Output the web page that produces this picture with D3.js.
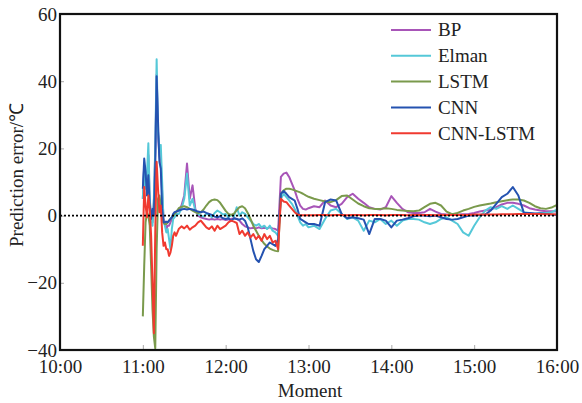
<!DOCTYPE html>
<html><head><meta charset="utf-8">
<script src="https://cdn.jsdelivr.net/npm/d3@7"></script>
<style>
body{margin:0;background:#fff}
svg{display:block}
text{font-family:"Liberation Serif","Times New Roman",serif;fill:#222}
</style>
</head><body>
<svg id="chart" width="582" height="403"></svg>
<script>
// minutes after 10:00
const minutes = [60,61,62,63,64,65,66,67,68,69,70,71,72,73,74,75,76,77,78,79,80,81,82,83,84,
86,88,90,92,94,96,98,100,102,104,106,108,110,112,114,116,118,120,122,124,126,128,130,132,134,136,138,140,142,144,146,148,150,152,154,156,158,160,162,164,166,168,170,172,174,176,178,180,
184,188,192,196,200,204,208,212,216,220,224,228,232,236,240,244,248,252,256,260,264,268,272,276,280,284,288,292,296,300,304,308,312,316,320,324,328,332,336,340,344,348,352,356,360];

const bp = [5,15,9,8,18,4,0,-2,4,19,42,24,18,15,7,-1,-2,-4,-3,-3,-2,-1,0,0.5,1,
1.5,3,6,15.5,5,9,2,0,-0.5,-0.8,-1,-1.2,-1,-1.2,-1,-1.2,-1,-1.3,-1.2,-1,-0.8,-1,-1.5,-2.5,-3.2,-3.5,-3.8,-3.6,-3.8,-3.5,-3.8,-3.6,-3.8,-3.5,-3.8,-4,-4.5,
11.5,12.5,12.8,11.5,9.5,7.5,5,3,2,1.8,2.2,
2.8,2.5,4.5,3.0,2.5,3.5,5.5,6.5,5.0,3.8,2.5,2.0,1.8,2.5,5.8,3.8,2.0,1.0,0.8,0.8,1.0,2.0,1.2,0.5,0.3,0.3,0.3,0.4,0.5,0.8,1.2,1.5,1.8,2.5,3.3,3.8,3.8,3.5,3.0,2.2,1.8,1.5,1.3,1.3,1.2];

const elman = [5,15,8,12,21.5,5,0,-3,5,20,46.5,25,20,21,10,-2,-3,-5,-4,-7,-10,-4,-1,-0.5,0.5,
0.5,2,5,12.5,3,5,1.5,0.5,0,-0.3,0.5,0.2,-0.5,0.8,1.5,1.0,0.3,0.5,-0.5,0.2,-0.3,2.5,0,1.0,0.5,-0.5,-1.5,-2.5,-3,-2.5,-3.5,-3,-4,-3,-4.5,-5,-6,
5,6.5,5.5,4.5,3.5,2,0,-2,-3,-2.5,-3.5,
-3,-4,-1,1.5,2,0.5,-1,-0.5,-1.5,-4.5,-1.5,-2,-1,-2.5,-1.5,-3,-1.5,-1,-1,-1.2,-2,-2.5,-2,-1,-0.5,-1.5,-2.5,-5,-6,-3,-0.5,1.5,2.5,2,2.8,2,3,2,1,0.8,0.5,0.8,0.8,1,1.8];

const lstm = [-30,-15,-2,1,0,-3,-15,-28,-36,-39.5,-10,5,6,3,0,-2,-2.5,-2.5,-2,-1.5,-1,-0.5,0,0.5,1,
2.2,2.6,2.8,2.5,2.0,1.5,1.0,0.8,1.0,1.8,3.0,4.0,4.6,4.8,4.6,3.8,2.6,1.4,0.5,0.2,0.6,1.6,2.5,2.8,2.2,0.8,-1.0,-3.0,-4.5,-6.0,-7.3,-8.4,-9.2,-9.8,-10.2,-10.5,-10.6,
6.5,7.5,8.0,8.0,7.8,7.5,7.2,6.9,6.5,6.0,5.6,
5.0,4.6,4.2,4.0,4.6,5.8,6.0,4.8,3.6,2.8,2.2,2.0,2.0,2.2,2.0,1.7,1.5,1.4,1.3,1.5,2.5,3.5,3.8,3.0,1.2,0.4,0.8,1.5,2.0,2.6,3.0,3.3,3.6,4.0,4.3,4.6,4.8,4.8,4.5,3.8,2.8,2.2,2.0,2.4,3.2];

const cnn = [8,17,13,6,12,3,-1,2,0,15,41.5,28,16,14,2,-2,-2,-1.8,-2,-1.5,-1,-0.5,0.5,1,1.2,
1.5,1.8,2.0,1.8,2.0,1.8,1.5,1.2,1.0,1.2,0.8,0.5,0.2,-0.3,-0.5,-0.2,-0.8,-1.0,-0.8,-1.5,-0.8,-1.0,-1.2,-0.8,-1.5,-3.5,-7,-10.5,-13,-13.8,-12,-10,-9,-8,-8.5,-9,-7,
6.5,7.3,6.5,5.5,5.0,4.5,2.0,-1.0,-1.5,-2.0,-2.5,
-2.5,-3.0,4.0,4.8,4.5,0.5,-0.8,-0.5,-0.8,-1.2,-5.5,-1.0,-1.0,-1.5,-3.5,-1.5,-1.2,-0.8,-0.2,0,0,-0.2,0,-0.5,-1.0,-1.2,-1.0,-0.5,0,0,0.2,0.3,1.5,3.5,5.5,6.5,8.5,6.0,0.8,0.8,0.6,0.6,0.5,0.3,0.2];

const cnnLstm = [-9,8.5,3,-0.5,6,2,-6,-20,-35,-5,16,8,1,3,-5,-9,-8,-10,-10,-12,-11,-9,-6,-5,-6,
-4.0,-3.2,-3.8,-3.0,-4.2,-3.5,-3.0,-2.0,-1.5,-2.5,-3.5,-4.0,-3.2,-4.5,-3.0,-4.0,-3.5,-3.0,-2.0,-1.5,-1.8,-2.2,-5.5,-4.5,-6.0,-5.0,-6.5,-5.5,-7.0,-6.0,-7.5,-5.5,-7.0,-6.0,-8.0,-7.5,-10.0,
5.0,4.2,4.0,3.0,2.0,1.0,0.3,0.1,0.1,0.1,0.1,
0.1,0.2,0.2,0.1,0.2,0.2,0.1,0.2,0.2,0.1,0.2,0.2,0.2,0.1,0.2,0.2,0.2,0.1,0.2,0.2,0.2,0.2,0.1,0.2,0.2,0.2,0.2,0.2,0.2,0.3,0.3,0.3,0.3,0.3,0.4,0.4,0.4,0.5,0.5,0.5,0.5,0.5,0.4,0.4,0.3];

const seriesNames = ["BP","Elman","LSTM","CNN","CNN-LSTM"];
const seriesColors = ["#a855b8","#55c8d8","#7a9a4c","#2452b0","#f03a30"];
const xTickValues = [0,60,120,180,240,300,360];
const xTickLabels = ["10:00","11:00","12:00","13:00","14:00","15:00","16:00"];
const yTickValues = [-40,-20,0,20,40,60];

const seriesData = [bp, elman, lstm, cnn, cnnLstm];
seriesData.forEach((s,i)=>{ if(s.length!==minutes.length) console.error(seriesNames[i]+" length "+s.length+" vs "+minutes.length); });

const L=60, R=557, T=14, B=350;
const svg = d3.select("#chart");
const x = d3.scaleLinear().domain([0,360]).range([L,R]);
const y = d3.scaleLinear().domain([-40,60]).range([B,T]);

svg.append("defs").append("clipPath").attr("id","clip")
  .append("rect").attr("x",L).attr("y",T).attr("width",R-L).attr("height",B-T);

// axes
const fmtY = d => d<0 ? "\u2212"+Math.abs(d) : String(d);
const xAxis = svg.append("g").attr("transform",`translate(0,${B})`)
  .call(d3.axisBottom(x).tickValues(xTickValues).tickSize(-5).tickPadding(10)
    .tickFormat((d,i)=>xTickLabels[i]));
const yAxis = svg.append("g").attr("transform",`translate(${L},0)`)
  .call(d3.axisLeft(y).tickValues(yTickValues).tickSize(-4).tickPadding(3).tickFormat(fmtY));
[xAxis,yAxis].forEach(g=>{
  g.select(".domain").remove();
  g.selectAll(".tick line").attr("stroke","#aaa").attr("stroke-width",1);
  g.selectAll(".tick text").style("font-size","19px").attr("fill","#222")
    .style("font-family",'"Liberation Serif","Times New Roman",serif');
});

// series
const line = d3.line().x((d,i)=>x(minutes[i])).y(d=>y(d));
const gLines = svg.append("g").attr("clip-path","url(#clip)");
seriesData.forEach((s,i)=>{
  gLines.append("path").datum(s).attr("d",line)
    .attr("fill","none").attr("stroke",seriesColors[i]).attr("stroke-width",2)
    .attr("stroke-linejoin","round");
});

// zero line
svg.append("line").attr("x1",L).attr("x2",R).attr("y1",y(0)).attr("y2",y(0))
  .attr("stroke","#000").attr("stroke-width",1.6).attr("stroke-dasharray","2,2");

// frame
svg.append("rect").attr("x",L).attr("y",T).attr("width",R-L).attr("height",B-T)
  .attr("fill","none").attr("stroke","#111").attr("stroke-width",2.2);

// legend
const lg = svg.append("g");
seriesNames.forEach((n,i)=>{
  const yy = 30 + i*25.8;
  lg.append("line").attr("x1",391).attr("x2",431).attr("y1",yy).attr("y2",yy)
    .attr("stroke",seriesColors[i]).attr("stroke-width",2);
  lg.append("text").attr("x",438).attr("y",yy).attr("dy","0.34em")
    .style("font-size","19px").text(n);
});

// axis titles
svg.append("text").attr("x",310).attr("y",397).attr("text-anchor","middle")
  .style("font-size","19px").text("Moment");
svg.append("text").attr("transform","translate(23,175) rotate(-90)").attr("text-anchor","middle")
  .style("font-size","19px").text("Prediction error/\u2103");
</script>
</body></html>
